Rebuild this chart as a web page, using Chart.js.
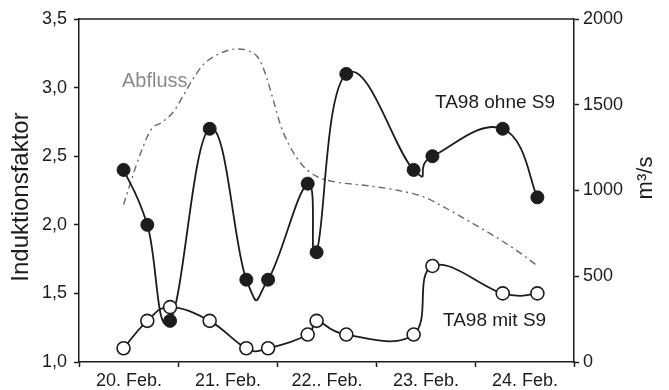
<!DOCTYPE html>
<html lang="de">
<head>
<meta charset="utf-8">
<script src="https://cdn.jsdelivr.net/npm/chart.js@4"></script>
<style>
	html, body { margin: 0; padding: 0; background: #fff; }
	#wrap { width: 669px; height: 390px; }
</style>
</head>
<body>
<div id="wrap"><canvas id="induktion-chart" width="669" height="390"></canvas></div>
<script>
	// Probenahme-Zeitpunkte (Tage ab 20. Feb. 0 Uhr)
	const samplePos = [0.45, 0.69, 0.92, 1.32, 1.69, 1.91, 2.31, 2.40, 2.70, 3.38, 3.57, 4.28, 4.63];
	const ohneS9 = [2.4, 2.0, 1.3, 2.7, 1.6, 1.6, 2.3, 1.8, 3.1, 2.4, 2.5, 2.7, 2.2];
	const mitS9 = [1.1, 1.3, 1.4, 1.3, 1.1, 1.1, 1.2, 1.3, 1.2, 1.2, 1.7, 1.5, 1.5];

	// Abfluss in m3/s
	const abflussPos = [0.45, 0.61, 0.73, 0.84, 0.95, 1.05, 1.15, 1.26, 1.41, 1.59, 1.72, 1.82, 1.89, 1.96, 2.04, 2.13, 2.25, 2.40, 2.56, 2.90, 3.23, 3.50, 3.64, 3.91, 4.17, 4.41, 4.63];
	const abfluss = [918, 1199, 1357, 1398, 1456, 1550, 1649, 1737, 1795, 1825, 1813, 1766, 1667, 1532, 1374, 1257, 1152, 1082, 1053, 1029, 1000, 959, 918, 830, 743, 655, 561];

	const dayLabels = ["20. Feb.", "21. Feb.", "22.. Feb.", "23. Feb.", "24. Feb."];

	const FONT = "'Liberation Sans', Arial, sans-serif";
	const INK = "#1c1c1c";

	function toPoints(xs, ys) {
		return xs.map((x, i) => ({ x: x, y: ys[i] }));
	}

	// gleichmaessiger Catmull-Rom statt der abstandsgewichteten Chart.js-Kurve
	const splinePlugin = {
		id: "uniformSpline",
		beforeDatasetDraw(chart, args) {
			const k = chart.data.datasets[args.index].splineFactor;
			if (!k) return;
			const pts = args.meta.data;
			const n = pts.length;
			for (let i = 0; i < n; i++) {
				const p = pts[i];
				const prev = pts[Math.max(i - 1, 0)];
				const next = pts[Math.min(i + 1, n - 1)];
				const dx = (next.x - prev.x) * k;
				const dy = (next.y - prev.y) * k;
				p.cp1x = p.x - dx;
				p.cp1y = p.y - dy;
				p.cp2x = p.x + dx;
				p.cp2y = p.y + dy;
			}
			args.meta.dataset._pointsUpdated = true;
			args.meta.dataset._path = undefined;
		},
	};

	// Rahmen oben + Beschriftungen
	const labelPlugin = {
		id: "labels",
		afterDraw(chart) {
			const ctx = chart.ctx;
			const area = chart.chartArea;
			ctx.save();

			ctx.strokeStyle = INK;
			ctx.lineWidth = 1.5;
			ctx.beginPath();
			ctx.moveTo(area.left, area.top);
			ctx.lineTo(area.right, area.top);
			ctx.stroke();

			ctx.textBaseline = "middle";
			ctx.textAlign = "left";
			ctx.fillStyle = "#8a8a8a";
			ctx.font = `20px ${FONT}`;
			ctx.fillText("Abfluss", 122, 81);

			ctx.fillStyle = INK;
			ctx.font = `19px ${FONT}`;
			ctx.fillText("TA98 ohne S9", 435, 103);
			ctx.fillText("TA98 mit S9", 443, 321);

			ctx.textAlign = "center";
			ctx.font = `24px ${FONT}`;
			ctx.translate(21, 197);
			ctx.rotate(-Math.PI / 2);
			ctx.fillText("Induktionsfaktor", 0, 0);
			ctx.restore();

			ctx.save();
			ctx.fillStyle = INK;
			ctx.textBaseline = "middle";
			ctx.textAlign = "center";
			ctx.font = `22px ${FONT}`;
			ctx.translate(646, 178);
			ctx.rotate(-Math.PI / 2);
			ctx.fillText("m³/s", 0, 0);
			ctx.restore();
		},
	};

	document.addEventListener("DOMContentLoaded", () => {
		const ctx = document.getElementById("induktion-chart").getContext("2d");

		new Chart(ctx, {
			type: "scatter",
			data: {
				datasets: [
					{
						label: "TA98 ohne S9",
						data: toPoints(samplePos, ohneS9),
						yAxisID: "y",
						showLine: true,
						tension: 0.4,
						splineFactor: 0.22,
						borderColor: INK,
						borderWidth: 1.8,
						pointRadius: 6.5,
						pointBackgroundColor: INK,
						pointBorderColor: INK,
						pointBorderWidth: 1,
						order: 1,
					},
					{
						label: "TA98 mit S9",
						data: toPoints(samplePos, mitS9),
						yAxisID: "y",
						showLine: true,
						tension: 0.4,
						splineFactor: 0.2,
						borderColor: INK,
						borderWidth: 1.8,
						pointRadius: 6.5,
						pointBackgroundColor: "#ffffff",
						pointBorderColor: INK,
						pointBorderWidth: 1.6,
						order: 0,
					},
					{
						label: "Abfluss",
						data: toPoints(abflussPos, abfluss),
						yAxisID: "y2",
						showLine: true,
						cubicInterpolationMode: "monotone",
						borderColor: "#6a6a6a",
						borderWidth: 1.4,
						borderDash: [7, 4, 2, 4],
						pointRadius: 0,
						order: 2,
					},
				],
			},
			options: {
				responsive: false,
				animation: false,
				layout: {
					padding: { top: 19, left: 0, right: 0, bottom: 0 },
				},
				plugins: {
					legend: false,
					tooltip: false,
				},
				scales: {
					x: {
						type: "linear",
						min: 0,
						max: 5,
						afterFit(scale) {
							scale.height = 28;
						},
						ticks: {
							stepSize: 1,
							labelOffset: 50,
							padding: 3,
							color: INK,
							font: { family: FONT, size: 18 },
							maxRotation: 0,
							callback: (value) => dayLabels[value] || "",
						},
						grid: {
							drawOnChartArea: false,
							tickLength: 5,
							tickColor: INK,
							tickWidth: 1.5,
						},
						border: {
							color: INK,
							width: 1.5,
						},
					},
					y: {
						position: "left",
						min: 1,
						max: 3.5,
						afterFit(scale) {
							scale.width = 79;
						},
						ticks: {
							stepSize: 0.5,
							padding: 7,
							color: INK,
							font: { family: FONT, size: 18 },
							callback: (value) => value.toFixed(1).replace(".", ","),
						},
						grid: {
							drawOnChartArea: false,
							tickLength: 5,
							tickColor: INK,
							tickWidth: 1.5,
						},
						border: {
							color: INK,
							width: 1.5,
						},
					},
					y2: {
						position: "right",
						min: 0,
						max: 2000,
						afterFit(scale) {
							scale.width = 95;
						},
						ticks: {
							stepSize: 500,
							padding: 4,
							color: INK,
							font: { family: FONT, size: 18 },
							callback: (value) => String(value),
						},
						grid: {
							drawOnChartArea: false,
							tickLength: 5,
							tickColor: INK,
							tickWidth: 1.5,
						},
						border: {
							color: INK,
							width: 1.5,
						},
					},
				},
			},
			plugins: [splinePlugin, labelPlugin],
		});
	});
</script>
</body>
</html>
